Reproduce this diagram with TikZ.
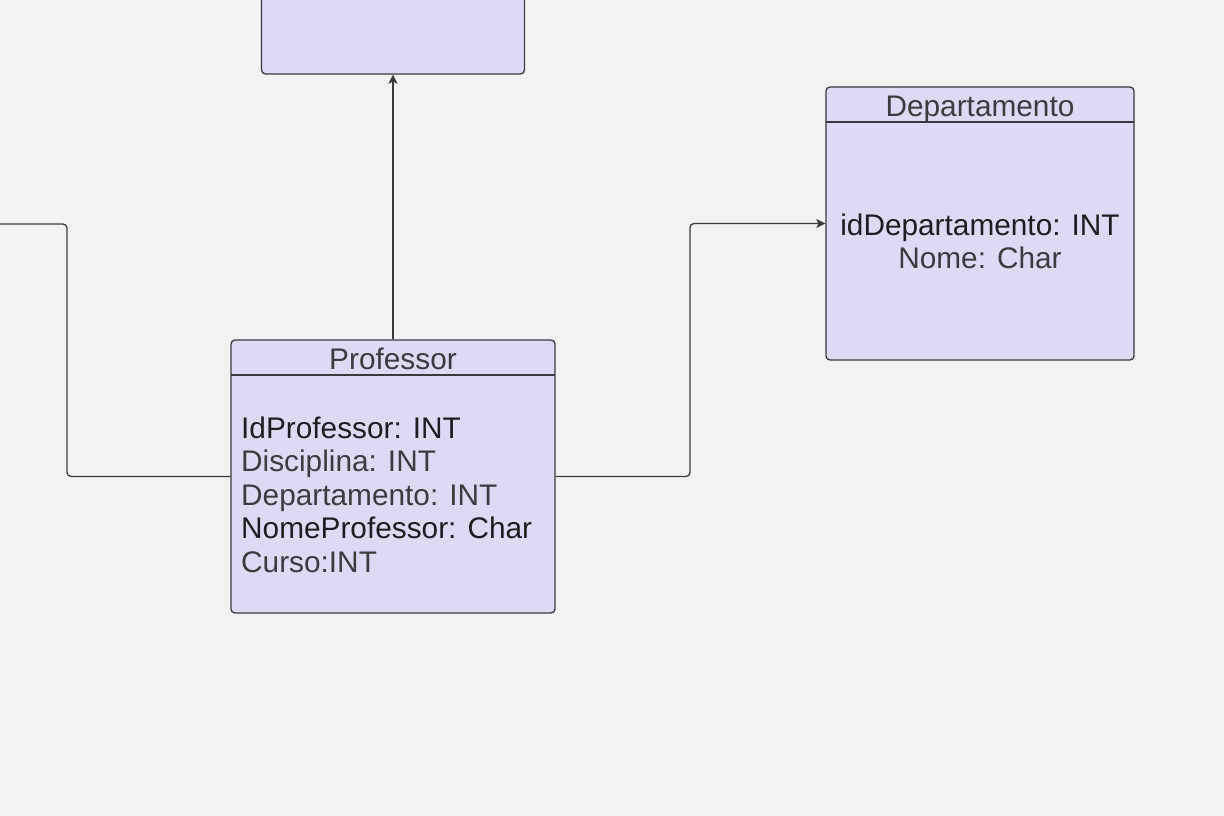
\documentclass[tikz,border=0pt]{standalone}
\usepackage{fontspec}
\setmainfont{Liberation Sans}
\usetikzlibrary{arrows.meta}
\definecolor{bgc}{HTML}{F2F2F2}
\definecolor{boxfill}{HTML}{DDDAF5}
\definecolor{edge}{HTML}{3A3A3E}
\definecolor{txtdark}{HTML}{1E1E22}
\definecolor{txtgray}{HTML}{3C3C40}
\tikzset{
  entity/.style={draw=edge, fill=boxfill, line width=1.3pt, rounded corners=4pt, inner sep=0pt},
  hdr/.style={draw=edge, line width=1.3pt},
  conn/.style={draw=edge, line width=1.3pt, rounded corners=4pt},
  tip/.style={-{Stealth[length=9pt,width=9pt,inset=2pt]}},
  lbl/.style={font=\fontsize{29.8}{34}\selectfont, inner sep=0pt, text=txtgray},
  lbldark/.style={lbl, text=txtdark}
}
\begin{document}
\begin{tikzpicture}[x=1pt,y=-1pt]
\fill[bgc] (0,0) rectangle (1224,816);
\useasboundingbox (0,0) rectangle (1224,816);
\clip (0,0) rectangle (1224,816);

% top (cut-off) box
\node[entity, minimum width=263pt, minimum height=160pt] (top) at (393,-6) {};

% Professor
\node[entity, minimum width=324pt, minimum height=273pt] (prof) at (393,476.5) {};
\draw[hdr] (231,375) -- (555,375);
\node[lbl, anchor=base] (proft) at (393,369.5) {Professor};
\node[lbldark, anchor=base west] (p1) at (241,438) {IdProfessor: INT};
\node[lbl, anchor=base west] (p2) at (241,471.5) {Disciplina: INT};
\node[lbl, anchor=base west] (p3) at (241,505) {Departamento: INT};
\node[lbldark, anchor=base west] (p4) at (241,538.5) {NomeProfessor: Char};
\node[lbl, anchor=base west] (p5) at (241,572) {Curso:INT};

% Departamento
\node[entity, minimum width=308pt, minimum height=273pt] (dept) at (980,223.5) {};
\draw[hdr] (826,122) -- (1134,122);
\node[lbl, anchor=base] (deptt) at (980,116.5) {Departamento};
\node[lbldark, anchor=base] (d1) at (980,235) {idDepartamento: INT};
\node[lbl, anchor=base] (d2) at (980,268) {Nome: Char};

% connectors
\coordinate (leftend) at (-5,224);
\draw[conn] (leftend) -- (67,224) -- (67,476.5) -- (prof.west);
\draw[conn, tip] (prof.east) -- (690,476.5) -- (690,223.5) -- (dept.west);
\draw[conn, tip] (prof.north) -- (top.south);
\end{tikzpicture}
\end{document}
